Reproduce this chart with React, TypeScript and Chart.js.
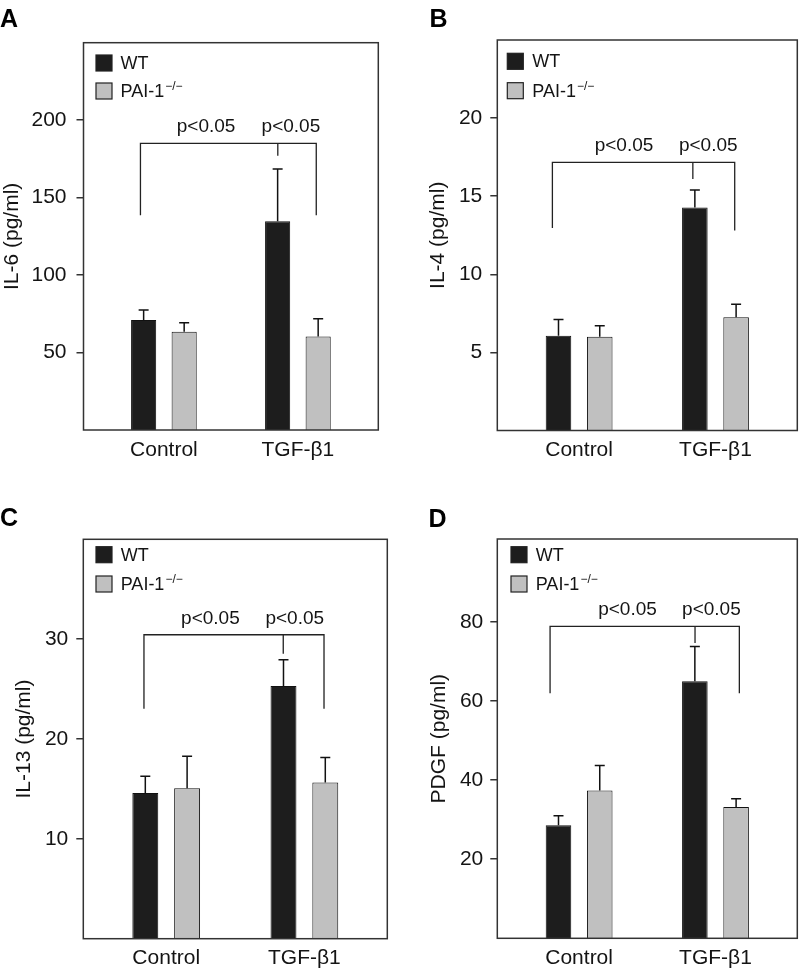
import React, { useEffect, useRef } from 'react';
import { Chart, registerables } from 'chart.js';
Chart.register(...registerables);

const FONT = "'Liberation Sans', Arial, Helvetica, sans-serif";
const TEXT = '#141414';

const categories = ['Control', 'TGF-β1'];
const groupLabels = ['WT', 'PAI-1'];
const groupSuperscripts = ['', '−/−'];
const significanceLabel = 'p<0.05';

// Panel A: IL-6
const il6WT = [71, 134.8];
const il6WTErr = [6.4, 33.6];
const il6KO = [63.4, 60.4];
const il6KOErr = [5.8, 11.4];
const il6Ticks = [50, 100, 150, 200];
const il6Max = 250;
const il6BracketX = [-0.175, 0.85, 1.137];
const il6BracketY = [185, 138.7, 177, 138.7];
const il6LabelX = [0.315, 0.948];

// Panel B: IL-4
const il4WT = [6.07, 14.27];
const il4WTErr = [1.03, 1.13];
const il4KO = [6.0, 7.25];
const il4KOErr = [0.7, 0.83];
const il4Ticks = [5, 10, 15, 20];
const il4Max = 25;
const il4BracketX = [-0.196, 0.834, 1.141];
const il4BracketY = [17.16, 12.97, 16.1, 12.8];
const il4LabelX = [0.329, 0.947];

// Panel C: IL-13
const il13WT = [14.6, 25.3];
const il13WTErr = [1.67, 2.64];
const il13KO = [15.07, 15.64];
const il13KOErr = [3.2, 2.5];
const il13Ticks = [10, 20, 30];
const il13Max = 40;
const il13BracketX = [-0.161, 0.847, 1.142];
const il13BracketY = [30.44, 23.04, 28.54, 23.04];
const il13LabelX = [0.32, 0.93];

// Panel D: PDGF
const pdgfWT = [28.6, 65.0];
const pdgfWTErr = [2.4, 8.8];
const pdgfKO = [37.4, 33.2];
const pdgfKOErr = [6.3, 2.1];
const pdgfTicks = [20, 40, 60, 80];
const pdgfMax = 101;
const pdgfBracketX = [-0.213, 0.85, 1.175];
const pdgfBracketY = [78.9, 62, 74.7, 62];
const pdgfLabelX = [0.355, 0.97];

const X_MIN = -0.6;
const X_MAX = 1.6;

const panels = [
  {
    letter: 'A', title: 'IL-6 (pg/ml)', wt: il6WT, wtErr: il6WTErr, ko: il6KO, koErr: il6KOErr,
    ticks: il6Ticks, max: il6Max, bx: il6BracketX, by: il6BracketY, lx: il6LabelX,
    box: { left: 0, top: 0, width: 400, height: 480 },
    area: { left: 83.5, top: 42.7, right: 378.3, bottom: 430 },
    titlePad: 0, tickPad: 10, xPad: 8,
    legend: { dx: 12.5, dy: 12.3, gap: 28, textDx: 37 },
    letterPos: [0, 26.5],
  },
  {
    letter: 'B', title: 'IL-4 (pg/ml)', wt: il4WT, wtErr: il4WTErr, ko: il4KO, koErr: il4KOErr,
    ticks: il4Ticks, max: il4Max, bx: il4BracketX, by: il4BracketY, lx: il4LabelX,
    box: { left: 400, top: 0, width: 400, height: 480 },
    area: { left: 97.3, top: 40, right: 397.3, bottom: 430.5 },
    titlePad: 25.4, tickPad: 8, xPad: 7,
    legend: { dx: 10, dy: 13.3, gap: 29.4, textDx: 35 },
    letterPos: [29.5, 26.5],
  },
  {
    letter: 'C', title: 'IL-13 (pg/ml)', wt: il13WT, wtErr: il13WTErr, ko: il13KO, koErr: il13KOErr,
    ticks: il13Ticks, max: il13Max, bx: il13BracketX, by: il13BracketY, lx: il13LabelX,
    box: { left: 0, top: 480, width: 400, height: 491 },
    area: { left: 83.3, top: 59.3, right: 387.3, bottom: 458.7 },
    titlePad: 11.4, tickPad: 8, xPad: 7,
    legend: { dx: 12.7, dy: 7.4, gap: 29.3, textDx: 37.4 },
    letterPos: [0, 45.5],
  },
  {
    letter: 'D', title: 'PDGF (pg/ml)', wt: pdgfWT, wtErr: pdgfWTErr, ko: pdgfKO, koErr: pdgfKOErr,
    ticks: pdgfTicks, max: pdgfMax, bx: pdgfBracketX, by: pdgfBracketY, lx: pdgfLabelX,
    box: { left: 400, top: 480, width: 400, height: 491 },
    area: { left: 97.3, top: 59, right: 397.3, bottom: 458.3 },
    titlePad: 26.4, tickPad: 7, xPad: 7,
    legend: { dx: 13.7, dy: 7.7, gap: 29.3, textDx: 38.4 },
    letterPos: [28.5, 46.5],
  },
];

const FILLS = ['#1d1d1d', '#c0c0c0'];

function Panel({ p }: { p: any }) {
  const ref = useRef<HTMLCanvasElement>(null);
  useEffect(() => {
    const canvas = ref.current!;
    const errs = [p.wtErr, p.koErr];
    const overlay = {
      id: 'overlay',
      afterDatasetsDraw(chart: any) {
        const { ctx, chartArea: ca, scales } = chart;
        const xs = scales.x;
        const ys = scales.y;
        ctx.save();
        // error bars
        ctx.strokeStyle = '#111';
        ctx.lineWidth = 1.5;
        chart.data.datasets.forEach((ds: any, di: number) => {
          const meta = chart.getDatasetMeta(di);
          meta.data.forEach((el: any, j: number) => {
            const v = ds.data[j].y;
            const top = ys.getPixelForValue(v + errs[di][j]);
            ctx.beginPath();
            ctx.moveTo(el.x, el.y);
            ctx.lineTo(el.x, top);
            ctx.moveTo(el.x - 5, top);
            ctx.lineTo(el.x + 5, top);
            ctx.stroke();
          });
        });
        // plot box
        ctx.strokeStyle = '#333';
        ctx.lineWidth = 1.5;
        ctx.strokeRect(ca.left, ca.top, ca.right - ca.left, ca.bottom - ca.top);
        // significance bracket
        const lx = xs.getPixelForValue(p.bx[0]);
        const mx = xs.getPixelForValue(p.bx[1]);
        const rx = xs.getPixelForValue(p.bx[2]);
        const ty = ys.getPixelForValue(p.by[0]);
        ctx.strokeStyle = '#222';
        ctx.lineWidth = 1.3;
        ctx.beginPath();
        ctx.moveTo(lx, ys.getPixelForValue(p.by[1]));
        ctx.lineTo(lx, ty);
        ctx.lineTo(rx, ty);
        ctx.lineTo(rx, ys.getPixelForValue(p.by[3]));
        ctx.moveTo(mx, ty);
        ctx.lineTo(mx, ys.getPixelForValue(p.by[2]));
        ctx.stroke();
        ctx.fillStyle = TEXT;
        ctx.font = `19px ${FONT}`;
        ctx.textAlign = 'center';
        ctx.textBaseline = 'alphabetic';
        p.lx.forEach((v: number) => {
          ctx.fillText(significanceLabel, xs.getPixelForValue(v), ty - 11);
        });
        // legend
        groupLabels.forEach((lab, i) => {
          const sx = ca.left + p.legend.dx;
          const sy = ca.top + p.legend.dy + i * p.legend.gap;
          ctx.fillStyle = FILLS[i];
          ctx.fillRect(sx, sy, 16, 16);
          ctx.strokeStyle = '#222';
          ctx.lineWidth = 1.2;
          ctx.strokeRect(sx, sy, 16, 16);
          ctx.fillStyle = TEXT;
          ctx.textAlign = 'left';
          ctx.font = `18px ${FONT}`;
          const tx = ca.left + p.legend.textDx;
          const base = sy + 14;
          ctx.fillText(lab, tx, base);
          if (groupSuperscripts[i]) {
            const w = ctx.measureText(lab).width;
            ctx.font = `12px ${FONT}`;
            ctx.fillText(groupSuperscripts[i], tx + w + 1, base - 7);
          }
        });
        // panel letter
        ctx.font = `bold 25px ${FONT}`;
        ctx.textAlign = 'left';
        ctx.fillStyle = '#000';
        ctx.fillText(p.letter, p.letterPos[0], p.letterPos[1]);
        ctx.restore();
      },
    };
    const chart = new Chart(canvas, {
      type: 'bar',
      data: {
        datasets: [
          {
            label: groupLabels[0],
            data: p.wt.map((y: number, i: number) => ({ x: i, y })),
            backgroundColor: FILLS[0], borderColor: '#111', borderWidth: 1,
            categoryPercentage: 0.605, barPercentage: 0.62,
          },
          {
            label: groupLabels[1],
            data: p.ko.map((y: number, i: number) => ({ x: i, y })),
            backgroundColor: FILLS[1], borderColor: '#111', borderWidth: 1,
            categoryPercentage: 0.605, barPercentage: 0.62,
          },
        ],
      } as any,
      options: {
        animation: false,
        responsive: false,
        maintainAspectRatio: false,
        layout: { padding: { top: p.area.top, right: p.box.width - p.area.right, left: 0, bottom: 0 } },
        plugins: { legend: { display: false }, tooltip: { enabled: false } },
        scales: {
          x: {
            type: 'linear', min: X_MIN, max: X_MAX, offset: false, bounds: 'data', grace: 0,
            afterDataLimits: (s: any) => { s.min = X_MIN; s.max = X_MAX; },
            afterBuildTicks: (s: any) => {
              s.min = X_MIN; s.max = X_MAX;
              s.ticks = categories.map((_, i) => ({ value: i }));
            },
            afterFit: (s: any) => { s.height = p.box.height - p.area.bottom; },
            grid: { display: false, drawTicks: false, offset: false },
            border: { display: false },
            ticks: {
              padding: p.xPad, color: TEXT, font: { family: FONT, size: 21 },
              maxRotation: 0, autoSkip: false,
              callback: (v: any) => categories[v] ?? '',
            },
          },
          y: {
            min: 0, max: p.max,
            afterBuildTicks: (s: any) => { s.ticks = p.ticks.map((v: number) => ({ value: v })); },
            afterFit: (s: any) => { s.width = p.area.left; },
            grid: { drawOnChartArea: false, drawTicks: true, tickLength: 7, color: '#333', lineWidth: 1.5 },
            border: { display: false },
            ticks: { padding: p.tickPad, color: TEXT, font: { family: FONT, size: 21 } },
            title: {
              display: true, text: p.title, color: TEXT,
              font: { family: FONT, size: 21, lineHeight: 1.2 },
              padding: { top: p.titlePad, bottom: 0 },
            },
          },
        },
      } as any,
      plugins: [overlay],
    });
    return () => chart.destroy();
  }, []);
  return (
    <canvas
      ref={ref}
      width={p.box.width}
      height={p.box.height}
      style={{ position: 'absolute', left: p.box.left, top: p.box.top, width: p.box.width, height: p.box.height }}
    />
  );
}

export default function App() {
  return (
    <div style={{ position: 'absolute', left: 0, top: 0, width: 800, height: 971, background: '#fff' }}>
      {panels.map((p) => (
        <Panel key={p.letter} p={p} />
      ))}
    </div>
  );
}
